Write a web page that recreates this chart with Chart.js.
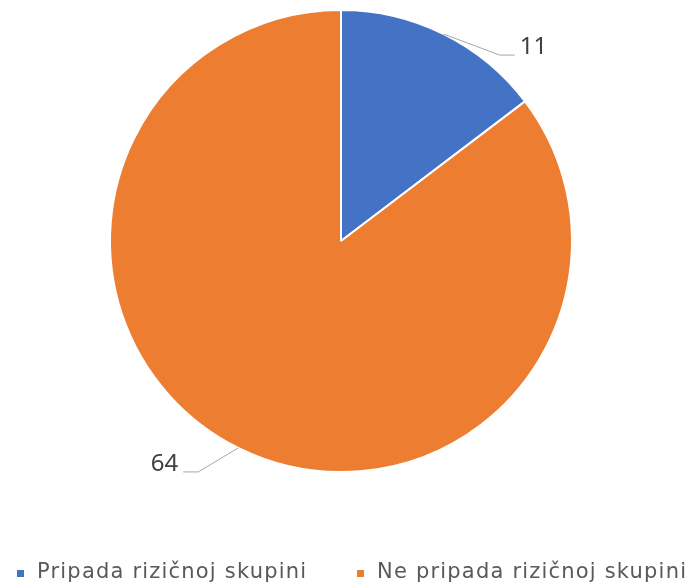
<!DOCTYPE html>
<html>
<head>
<meta charset="utf-8">
<script src="https://cdn.jsdelivr.net/npm/chart.js@4/dist/chart.umd.min.js"></script>
<style>
  html, body { margin: 0; padding: 0; background: #fff; }
  #wrap { position: relative; width: 686px; height: 587px; }
  #pieLegend { position: absolute; left: 0; top: 559px; width: 686px; height: 24px; }
  .legend-item { position: absolute; top: 0; height: 24px; white-space: nowrap;
                 font-family: "DejaVu Sans"; font-size: 21px; line-height: 24px;
                 letter-spacing: 1.2px; color: #595959; }
  .legend-color { position: absolute; left: 0; top: 11px; width: 7px; height: 7px; }
  .legend-text { position: absolute; left: 20px; top: 0; }
</style>
</head>
<body>
<div id="wrap">
  <canvas id="pie"></canvas>
  <div id="pieLegend"></div>
</div>
<script>
// Données
const categories = ["Pripada rizičnoj skupini", "Ne pripada rizičnoj skupini"];
const values = [11, 64];
const colors = ["#4472C4", "#ED7D31"];

// Style : coude des lignes de rappel et position des entrées de légende
const labelOffsets = [[56, 21], [-40, 24]];
const legendLefts = [17, 357];

// Étiquettes avec lignes de rappel
const leaderLabels = {
    id: 'leaderLabels',
    afterDatasetsDraw(chart) {
        const ctx = chart.ctx;
        const meta = chart.getDatasetMeta(0);
        ctx.save();
        meta.data.forEach((arc, i) => {
            const mid = (arc.startAngle + arc.endAngle) / 2;
            const x0 = arc.x + Math.cos(mid) * arc.outerRadius;
            const y0 = arc.y + Math.sin(mid) * arc.outerRadius;
            const off = labelOffsets[i];
            const x1 = x0 + off[0];
            const y1 = y0 + off[1];
            const dir = off[0] >= 0 ? 1 : -1;
            const x2 = x1 + dir * 15;
            ctx.strokeStyle = '#a6a6a6';
            ctx.lineWidth = 1;
            ctx.beginPath();
            ctx.moveTo(x0, y0);
            ctx.lineTo(x1, y1);
            ctx.lineTo(x2, y1);
            ctx.stroke();
            ctx.fillStyle = '#404040';
            ctx.font = '24px "Noto Sans"';
            ctx.textAlign = dir > 0 ? 'left' : 'right';
            ctx.textBaseline = 'alphabetic';
            ctx.fillText(String(values[i]), x2 + dir * 5, y1 - 1);
        });
        ctx.restore();
    }
};

new Chart(document.getElementById('pie').getContext('2d'), {
    type: 'pie',
    data: {
        labels: categories,
        datasets: [{
            data: values,
            backgroundColor: colors,
            borderColor: '#ffffff',
            borderWidth: 2,
            radius: 231
        }]
    },
    options: {
        responsive: true,
        maintainAspectRatio: false,
        animation: false,
        layout: { padding: { top: 0, right: 4, bottom: 105, left: 0 } },
        plugins: {
            tooltip: { enabled: false },
            legend: { display: false }
        }
    },
    plugins: [leaderLabels]
});

// Légende
function generateLegend() {
    let html = '';
    categories.forEach((name, i) => {
        html += `
            <div class="legend-item" style="left: ${legendLefts[i]}px">
                <div class="legend-color" style="background: ${colors[i]}"></div>
                <div class="legend-text">${name}</div>
            </div>`;
    });
    document.getElementById('pieLegend').innerHTML = html;
}
generateLegend();
</script>
</body>
</html>
